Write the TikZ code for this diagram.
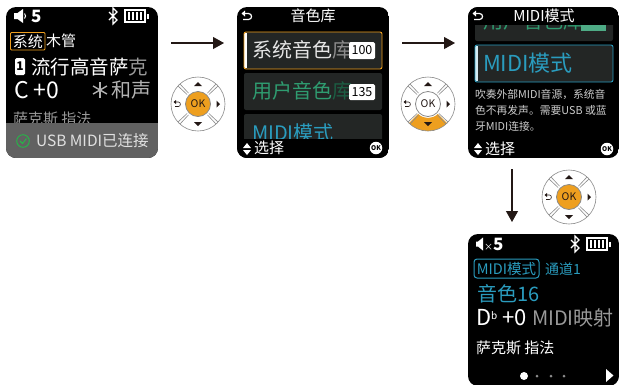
\documentclass[tikz,border=0pt]{standalone}
\usepackage{fontspec}
\setmainfont{Noto Sans CJK SC}
\usetikzlibrary{arrows.meta}
\definecolor{okorange}{HTML}{EE9F1F}
\definecolor{midiblue}{HTML}{2A9CBE}
\definecolor{usergreen}{HTML}{2F9C70}
\definecolor{rowgray}{HTML}{232625}
\definecolor{inkdark}{HTML}{231815}
\definecolor{padline}{HTML}{8A8A8A}
\tikzset{
  x=1pt,y=-1pt,
  screen/.style={fill=black,rounded corners=10pt},
  txt/.style={inner sep=0pt,outer sep=0pt,text=white,anchor=west,font=\fontsize{#1}{#1}\selectfont},
  ctxt/.style={inner sep=0pt,outer sep=0pt,text=white,anchor=center,font=\fontsize{#1}{#1}\selectfont},
  flow/.style={draw=inkdark,line width=1.1pt,-{Triangle[length=11pt,width=12pt,fill=inkdark]}},
  rowbox/.style={fill=rowgray,rounded corners=2pt},
  badge/.style={fill=white,rounded corners=1.5pt},
}
\newcommand{\spkicon}[2]{\fill[white] (#1,#2-3)--(#1+3.5,#2-3)--(#1+9,#2-7)--(#1+9,#2+7)--(#1+3.5,#2+3)--(#1,#2+3)--cycle;
  \draw[white,line width=1pt] (#1+10.5,#2-2.5) .. controls (#1+12,#2-1) and (#1+12,#2+1) .. (#1+10.5,#2+2.5);}
\newcommand{\btthing}[2]{\draw[white,line width=1.2pt] (#1-4,#2-4)--(#1+4,#2+4)--(#1,#2+8)--(#1,#2-8)--(#1+4,#2-4)--(#1-4,#2+4);}
\newcommand{\battery}[2]{%
  \draw[white,line width=1.2pt] (#1,#2-6) rectangle (#1+20,#2+6);
  \fill[white] (#1+22,#2-2.5) rectangle (#1+24,#2+2.5);
  \foreach \k in {2.5,6.5,10.5,14.5}{\fill[white] (#1+\k,#2-4) rectangle (#1+\k+2.8,#2+4);}
}
\newcommand{\backicon}[2]{%
  \draw[white,line width=1.2pt] (#1-3,#2-2.5)--(#1+1.5,#2-2.5) .. controls (#1+5.5,#2-2.5) and (#1+5.5,#2+3.5) .. (#1+1.5,#2+3.5) -- (#1-4,#2+3.5);
  \fill[white] (#1-5.5,#2-2.5)--(#1-2,#2-5.5)--(#1-2,#2+0.5)--cycle;
}
\newcommand{\updown}[2]{%
  \fill[white] (#1-4,#2-1)--(#1+4,#2-1)--(#1,#2-6)--cycle;
  \fill[white] (#1-4,#2+1)--(#1+4,#2+1)--(#1,#2+6)--cycle;
}
\newcommand{\okbadge}[3]{%
  \node[circle,fill=white,minimum size=12.5pt,inner sep=0pt,text=black,font=\fontsize{6.5}{6.5}\selectfont\bfseries] (#3) at (#1,#2) {OK};
}
\newcommand{\dpad}[5]{%
  \begin{scope}[shift={(#1,#2)}]
    \coordinate (#3) at (0,0);
    \fill[white] (0,0) circle[radius=27];
    \fill[#5] (45:27) arc[start angle=45,end angle=135,radius=27] -- (135:14) arc[start angle=135,end angle=45,radius=14] -- cycle;
    \draw[padline,line width=.6pt] (0,0) circle[radius=27];
    \foreach \a in {45,135,225,315}{
      \draw[padline,line width=.6pt] (\a+4:14.5) -- (\a+3:26.8);
      \draw[padline,line width=.6pt] (\a-4:14.5) -- (\a-3:26.8);
    }
    \fill[#4,draw=padline,line width=.8pt] (0,0) circle[radius=12.5];
    \node[ctxt=10.5,text=inkdark] (#3ok) at (0,0) {OK};
    \fill[inkdark] (-4,-18)--(4,-18)--(0,-22)--cycle;
    \fill[inkdark] (-4,18)--(4,18)--(0,22)--cycle;
    \fill[inkdark] (18.5,-3.5)--(18.5,3.5)--(22,0)--cycle;
    \draw[inkdark,line width=.6pt] (-22.5,-2)--(-19.5,-2) .. controls (-17,-2) and (-17,2.5) .. (-19.5,2.5) -- (-23,2.5);
    \fill[inkdark] (-24.5,-2)--(-22,-4)--(-22,0)--cycle;
  \end{scope}
}
\begin{document}
\begin{tikzpicture}
\useasboundingbox (0,0) rectangle (619,384);
\fill[white] (0,0) rectangle (619,384);

% ---- Screen 1
\begin{scope}
  \clip[rounded corners=10pt] (6,7) rectangle (158,158);
  \fill[black] (6,7) rectangle (158,158);
  \node[txt=15,text=white!60!black] (s1h) at (13,119) {萨克斯 指法};
  \fill[black!62!white] (6,123) rectangle (158,158);
\end{scope}
\spkicon{14}{16}
\node[txt=17,font=\fontsize{17}{17}\selectfont\bfseries] (s1v) at (31,16) {5};
\btthing{113}{16}
\battery{125}{16}
\draw[okorange,line width=.9pt,rounded corners=1pt] (10.5,32.5) rectangle (45,50) node[midway,ctxt=15] (s1sys) {系统};
\node[txt=15] (s1wood) at (46,41) {木管};
\fill[white,rounded corners=1.5pt] (15,58) rectangle (25,75);
\node[ctxt=12,text=black,font=\fontsize{12}{12}\selectfont\bfseries] (s1one) at (20,66.5) {1};
\node[txt=19.5] (s1name) at (31,67) {流行高音萨\textcolor{white!60!black}{克}};
\node[txt=23] (s1key) at (14,90) {C +0};
\node[txt=20,text=white!70!black] (s1harm) at (111,90) {和声};
\foreach \a in {90,150,210}{\draw[white!70!black,line width=1.4pt] (100,90)+(\a:8) -- +(\a+180:8);}
\draw[usergreen!60!green,line width=.8pt] (23,141) circle[radius=6.3];
\draw[usergreen!60!green,line width=.8pt] (20,141)--(22.5,143.5)--(26.5,138.5);
\node[txt=15.5,text=white!88!black] (s1usb) at (36,141) {USB MIDI已连接};

% ---- Screen 2
\begin{scope}
  \clip[rounded corners=10pt] (237,7) rectangle (389,158);
  \fill[black] (237,7) rectangle (389,158);
  \fill[rowgray,rounded corners=2pt] (244,32) rectangle (382,69);
  \fill[white] (244,33) rectangle (247,68);
  \draw[okorange,line width=.9pt,rounded corners=2pt] (244,32) rectangle (382,69);
  \node[txt=20,text=white!90!black] (s2a) at (252,50) {系统音色\textcolor{white!55!black}{库}};
  \fill[badge] (349,42) rectangle (375,59);
  \node[ctxt=12.5,text=black] (s2an) at (362,50.5) {100};
  \fill[rowbox] (244,73) rectangle (382,110);
  \node[txt=20,text=usergreen] (s2b) at (252,91) {用户音色\textcolor{usergreen!60!black}{库}};
  \fill[badge] (349,84) rectangle (375,100);
  \node[ctxt=12.5,text=black] (s2bn) at (362,92) {135};
  \fill[rowbox] (244,114) rectangle (382,150);
  \node[txt=20,text=midiblue] (s2c) at (252,133) {MIDI模式};
  \fill[black] (237,139) rectangle (389,158);
\end{scope}
\backicon{247}{16}
\node[ctxt=15] (s2t) at (313,16) {音色库};
\updown{247}{149}
\node[txt=15] (s2s) at (254,148) {选择};
\okbadge{376}{148}{s2ok}

% ---- Screen 3
\begin{scope}
  \clip[rounded corners=10pt] (468,7) rectangle (619,158);
  \fill[black] (468,7) rectangle (619,158);
  \fill[rowbox] (475,15) rectangle (613,41);
  \node[txt=20,text=usergreen] (s3b) at (483,21) {用户音色库};
  \fill[usergreen!85!white] (581,20) rectangle (606,31);
  \fill[black] (468,7) rectangle (619,25);
  \fill[rowgray,rounded corners=2pt] (475,45) rectangle (613,82);
  \fill[white!80!midiblue] (475,46) rectangle (478,81);
  \draw[midiblue,line width=.9pt,rounded corners=2pt] (475,45) rectangle (613,82);
  \node[txt=22,text=midiblue] (s3c) at (483,63) {MIDI模式};
\end{scope}
\backicon{478}{16}
\node[ctxt=15] (s3t) at (544,16) {MIDI模式};
\node[txt=10.8,text=white!80!black] (s3d1) at (475,94) {吹奏外部MIDI音源，系统音};
\node[txt=10.8,text=white!80!black] (s3d2) at (475,110) {色不再发声。需要USB 或蓝};
\node[txt=10.8,text=white!80!black] (s3d3) at (475,126) {牙MIDI连接。};
\updown{478}{149}
\node[txt=15] (s3s) at (485,149) {选择};
\okbadge{607}{149}{s3ok}

% ---- Screen 4
\fill[screen] (468,234) rectangle (619,386);
\fill[white] (476,241.5)--(478,241.5)--(483,237.5)--(483,250.5)--(478,246.5)--(476,246.5)--cycle;
\node[txt=17,font=\fontsize{17}{17}\selectfont\bfseries] (s4v) at (484,244) {{\fontsize{9}{9}\selectfont\mdseries ×}5};
\btthing{575}{244}
\battery{587}{244}
\draw[midiblue,line width=1pt,rounded corners=3pt] (474,259) rectangle (539,278) node[midway,ctxt=14.5,text=midiblue] (s4m) {MIDI模式};
\node[txt=14,text=midiblue] (s4ch) at (545,269) {通道1};
\node[txt=20,text=midiblue] (s4i) at (477,294) {音色16};
\node[txt=22] (s4k) at (476,318) {D\raisebox{6pt}{\fontsize{10}{10}\selectfont b} +0};
\node[txt=20,text=white!60!black] (s4map) at (532,318) {MIDI映射};
\node[txt=15] (s4h) at (476,348) {萨克斯 指法};
\fill[white] (524,376) circle[radius=4];
\foreach \dx in {537,551,564}{\fill[white!55!black] (\dx,376) circle[radius=1.5];}
\fill[white] (606,369)--(613.5,375.5)--(606,382)--cycle;

% ---- D-pads
\dpad{198}{104}{padA}{okorange}{white}
\dpad{428}{104}{padB}{white}{okorange}
\dpad{569}{197}{padC}{okorange}{white}

% ---- Flow arrows
\coordinate (a1s) at (171,43); \coordinate (a1e) at (224,43);
\coordinate (a2s) at (402,43); \coordinate (a2e) at (455,43);
\coordinate (a3s) at (512,169); \coordinate (a3e) at (512,222);
\draw[flow] (a1s) -- (a1e);
\draw[flow] (a2s) -- (a2e);
\draw[flow] (a3s) -- (a3e);
\end{tikzpicture}
\end{document}
